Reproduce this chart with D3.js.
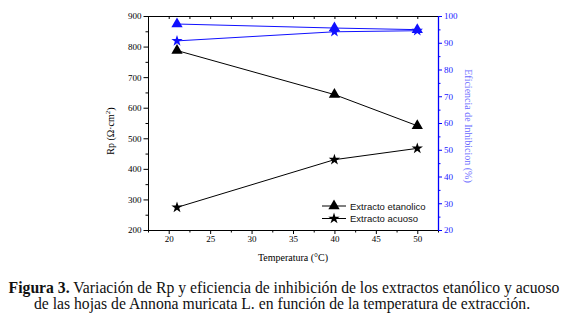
<!DOCTYPE html>
<html>
<head>
<meta charset="utf-8">
<script src="https://cdn.jsdelivr.net/npm/d3@7"></script>
<style>
  body { margin: 0; background: #fff; }
  .tick text { font-family: "Liberation Serif", serif; }
</style>
</head>
<body>
<div id="container"></div>
<script>
const temps = [21, 40, 50];
const rpEtanolico = [787, 643, 541];
const rpAcuoso = [274, 430, 467];
const efEtanolico = [97.0, 95.5, 94.9];
const efAcuoso = [90.7, 94.1, 94.5];
const xTicks = [20, 25, 30, 35, 40, 45, 50];
const legendLabels = ["Extracto etanolico", "Extracto acuoso"];

const W = 579, H = 329;
const margin = { top: 16, left: 148, right: 141, bottom: 99 };
const w = W - margin.left - margin.right;
const h = H - margin.top - margin.bottom;

const svg = d3.select("#container").append("svg")
  .attr("width", W).attr("height", H);
const g = svg.append("g").attr("transform", `translate(${margin.left},${margin.top})`);

const x = d3.scaleLinear().domain([17.5, 52.5]).range([0, w]);
const yL = d3.scaleLinear().domain([200, 900]).range([h, 0]);
const yR = d3.scaleLinear().domain([20, 100]).range([h, 0]);

// minor ticks first
const minorX = d3.range(17.5, 52.6, 2.5).filter(v => v % 5 !== 0);
g.append("g").attr("transform", `translate(0,${h})`)
  .call(d3.axisBottom(x).tickValues(minorX).tickSize(2.5).tickFormat(""))
  .call(a => a.select(".domain").remove());
g.append("g")
  .call(d3.axisBottom(x).tickValues(d3.range(17.5, 52.6, 2.5)).tickSize(3).tickFormat(""))
  .call(a => a.selectAll(".tick line").attr("y2", 3));

g.append("g").attr("transform", `translate(0,${h})`)
  .call(d3.axisBottom(x).tickValues(xTicks).tickSize(4).tickSizeOuter(0).tickPadding(2))
  .call(a => a.selectAll("text").attr("font-size", 9).attr("fill", "#000"));

g.append("g")
  .call(d3.axisLeft(yL).tickValues(d3.range(250, 900, 100)).tickSize(2.5).tickFormat(""))
  .call(a => a.select(".domain").remove());
g.append("g")
  .call(d3.axisLeft(yL).tickValues(d3.range(200, 901, 100)).tickSize(4.5).tickSizeOuter(0).tickPadding(2))
  .call(a => a.selectAll("text").attr("font-size", 9).attr("fill", "#000"));

const rAx = g.append("g").attr("transform", `translate(${w},0)`);
rAx.append("g")
  .call(d3.axisRight(yR).tickValues(d3.range(25, 100, 10)).tickSize(2.5).tickFormat(""))
  .call(a => a.select(".domain").remove())
  .call(a => a.selectAll("line").attr("stroke", "#0000ff"));
rAx.append("g")
  .call(d3.axisRight(yR).tickValues(d3.range(20, 101, 10)).tickSize(4).tickSizeOuter(0).tickPadding(2))
  .call(a => a.select(".domain").attr("stroke", "#0000ff").attr("stroke-width", 1.3))
  .call(a => a.selectAll("line").attr("stroke", "#0000ff"))
  .call(a => a.selectAll("text").attr("font-size", 9).attr("fill", "#2020ff"));

// lines
const series = [
  { vals: rpEtanolico, y: yL, color: "#000", sym: d3.symbolTriangle, size: 55 },
  { vals: rpAcuoso, y: yL, color: "#000", sym: d3.symbolStar, size: 40 },
  { vals: efEtanolico, y: yR, color: "#1010ff", sym: d3.symbolTriangle, size: 55 },
  { vals: efAcuoso, y: yR, color: "#1010ff", sym: d3.symbolStar, size: 40 }
];

series.forEach(s => {
  const line = d3.line().x((d, i) => x(temps[i])).y(d => s.y(d));
  g.append("path").datum(s.vals)
    .attr("fill", "none")
    .attr("stroke", s.color)
    .attr("stroke-width", 1)
    .attr("d", line);
  g.selectAll(null).data(s.vals).join("path")
    .attr("transform", (d, i) => `translate(${x(temps[i])},${s.y(d)})`)
    .attr("d", d3.symbol(s.sym, s.size))
    .attr("fill", s.color);
});

// legend
const lg = g.append("g").attr("transform", `translate(${x(39.95)},0)`);
legendLabels.forEach((lab, i) => {
  const yy = 190 + i * 12.5;
  const row = lg.append("g").attr("transform", `translate(0,${yy})`);
  row.append("line").attr("x1", -12).attr("x2", 12).attr("stroke", "#000");
  row.append("path").attr("d", d3.symbol(i === 0 ? d3.symbolTriangle : d3.symbolStar, i === 0 ? 55 : 40)).attr("fill", "#000");
  row.append("text").attr("x", 16).attr("y", 3.5)
    .attr("font-family", "Liberation Sans, Arial, sans-serif")
    .attr("font-size", 9.5).attr("fill", "#111").text(lab);
});

// axis titles
svg.append("text")
  .attr("transform", `translate(114,${margin.top + h / 2 + 8}) rotate(-90)`)
  .attr("text-anchor", "middle")
  .attr("font-family", "Liberation Serif, serif").attr("font-size", 10)
  .html('Rp (Ω·cm<tspan dy="-4" font-size="7">2</tspan><tspan dy="4">)</tspan>');

svg.append("text")
  .attr("transform", `translate(465,126) rotate(90)`)
  .attr("text-anchor", "middle")
  .attr("font-family", "Liberation Serif, serif").attr("font-size", 10)
  .attr("fill", "#6a6aff")
  .text("Eficiencia de Inhibicion (%)");

svg.append("text")
  .attr("x", 293).attr("y", 261)
  .attr("text-anchor", "middle")
  .attr("font-family", "Liberation Serif, serif").attr("font-size", 10)
  .text("Temperatura (°C)");

// caption
const cap = svg.append("g").attr("font-family", "Liberation Serif, 'Times New Roman', serif")
  .attr("font-size", 15.7).attr("fill", "#111").attr("text-anchor", "middle");
const l1 = cap.append("text").attr("x", 284).attr("y", 293);
l1.append("tspan").attr("font-weight", "bold").text("Figura 3.");
l1.append("tspan").text(" Variación de Rp y eficiencia de inhibición de los extractos etanólico y acuoso");
cap.append("text").attr("x", 282).attr("y", 309)
  .text("de las hojas de Annona muricata L. en función de la temperatura de extracción.");
</script>
</body>
</html>
